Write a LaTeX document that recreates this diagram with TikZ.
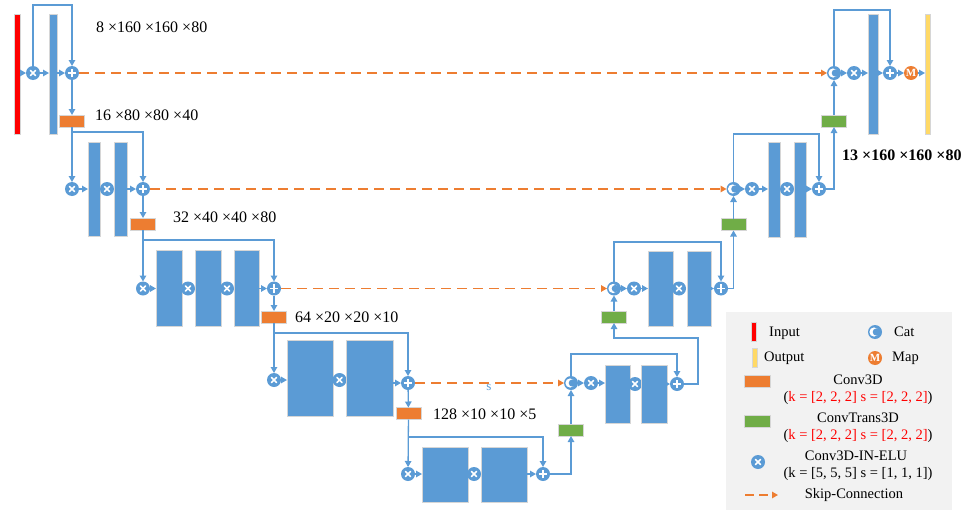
\documentclass[tikz,border=0pt]{standalone}
\usepackage{fontspec}
\setmainfont{Liberation Serif}
\usetikzlibrary{arrows.meta}
\definecolor{cblue}{HTML}{5B9BD5}
\definecolor{corange}{HTML}{ED7D31}
\definecolor{cgreen}{HTML}{70AD47}
\definecolor{cred}{HTML}{FF0000}
\definecolor{cyellow}{HTML}{FFD966}
\definecolor{legbg}{HTML}{F2F2F2}

\begin{document}
\begin{tikzpicture}[x=1pt,y=-1pt,
  sz/.style 2 args={minimum width=#1pt, minimum height=#2pt},
  blk/.style={rectangle, inner sep=0pt, outer sep=0pt, draw=black!16, line width=0.6pt},
  bar/.style={blk, fill=cblue},
  conv/.style={blk, fill=corange, sz={25}{12}},
  tconv/.style={blk, fill=cgreen, sz={25}{12}},
  opbase/.style={circle, minimum size=14pt, inner sep=0pt, outer sep=0pt},
  opx/.style={opbase, fill=cblue, path picture={
    \draw[white, line width=1.7pt, line cap=round]
      ([shift={(-2.6pt,-2.6pt)}]path picture bounding box.center) -- ([shift={(2.6pt,2.6pt)}]path picture bounding box.center)
      ([shift={(-2.6pt,2.6pt)}]path picture bounding box.center) -- ([shift={(2.6pt,-2.6pt)}]path picture bounding box.center);}},
  opp/.style={opbase, fill=cblue, path picture={
    \draw[white, line width=1.7pt]
      ([xshift=-4.4pt]path picture bounding box.center) -- ([xshift=4.4pt]path picture bounding box.center)
      ([yshift=-4.4pt]path picture bounding box.center) -- ([yshift=4.4pt]path picture bounding box.center);}},
  opc/.style={opbase, fill=cblue, path picture={
    \fill[white] ([xshift=-1pt]path picture bounding box.center) circle (4.6pt);
    \fill[cblue] ([xshift=1.3pt]path picture bounding box.center) circle (3.6pt);}},
  opm/.style={opbase, fill=corange, text=white, font=\fontsize{11}{11}\selectfont\bfseries},
  arr/.style={draw=cblue, line width=1.3pt, -{Triangle[length=6pt,width=6.5pt]}},
  skip/.style={draw=corange, line width=1.3pt, dash pattern=on 10pt off 6pt, -{Triangle[length=6pt,width=6.5pt]}},
  dim/.style={anchor=west, inner sep=0pt, font=\fontsize{16}{16}\selectfont},
  leg/.style={inner sep=0pt, font=\fontsize{14.5}{14.5}\selectfont},
]
\useasboundingbox (0,0) rectangle (964,514);

% ---------------- legend panel (background first) ----------------
\fill[legbg] (726,312) rectangle (952,510);

% ---------------- encoder, level 0 ----------------
\node[blk, fill=cred, sz={6}{120}] (in) at (17,74) {};
\node[opx] (x00) at (33,73) {};
\node[bar, sz={8}{120}] (b00) at (53,74) {};
\node[opp] (p0) at (72,73) {};
\node[conv] (o0) at (72,121) {};
\coordinate (t0) at (72,5);

% ---------------- encoder, level 1 ----------------
\node[opx] (x10) at (72,189) {};
\node[bar, sz={12}{94}] (b10) at (94,189) {};
\node[opx] (x11) at (107,189) {};
\node[bar, sz={13}{94}] (b11) at (120.5,189) {};
\node[opp] (p1) at (143,189) {};
\node[conv] (o1) at (143,224) {};
\coordinate (t1) at (143,132);

% ---------------- encoder, level 2 ----------------
\node[opx] (x20) at (143,288.5) {};
\node[bar, sz={26}{76}] (b20) at (169,288) {};
\node[opx] (x21) at (188,288.5) {};
\node[bar, sz={26}{76}] (b21) at (208,288) {};
\node[opx] (x22) at (227,288.5) {};
\node[bar, sz={25}{76}] (b22) at (246.5,288) {};
\node[opp] (p2) at (274,288.5) {};
\node[conv] (o2) at (274,317) {};
\coordinate (t2) at (274,240);

% ---------------- encoder, level 3 ----------------
\node[opx] (x30) at (274,380) {};
\node[bar, sz={46}{76}] (b30) at (310,378) {};
\node[opx] (x31) at (339.5,380) {};
\node[bar, sz={47}{76}] (b31) at (369.5,378) {};
\node[opp] (p3) at (408,383) {};
\node[conv] (o3) at (408.5,413.5) {};
\coordinate (t3) at (408,333);

% ---------------- bottleneck, level 4 ----------------
\node[opx] (x40) at (408,474) {};
\node[bar, sz={46}{55}] (b40) at (445,474.5) {};
\node[opx] (x41) at (474,474) {};
\node[bar, sz={46}{55}] (b41) at (504,474.5) {};
\node[opp] (p4) at (543,474) {};
\coordinate (t4) at (543,437);

% ---------------- decoder, level 3 ----------------
\node[tconv] (g3) at (571,430) {};
\node[opc] (c3) at (571,383) {};
\node[opx] (x3d) at (591,383) {};
\node[bar, sz={25}{58}] (d30) at (617.5,394) {};
\node[opx] (x3e) at (635,384) {};
\node[bar, sz={26}{58}] (d31) at (654,394) {};
\node[opp] (q3) at (677,384) {};
\coordinate (u3) at (677,354);
\coordinate (r3) at (698,338);

% ---------------- decoder, level 2 ----------------
\node[tconv] (g2) at (614,317) {};
\node[opc] (c2) at (614,288.5) {};
\node[opx] (x2d) at (634,288.5) {};
\node[bar, sz={25}{75}] (d20) at (660.5,288.5) {};
\node[opx] (x2e) at (679,288.5) {};
\node[bar, sz={24}{75}] (d21) at (699,288.5) {};
\node[opp] (q2) at (721,288.5) {};
\coordinate (u2) at (721,242);

% ---------------- decoder, level 1 ----------------
\node[tconv] (g1) at (733.5,224.5) {};
\node[opc] (c1) at (733.5,189) {};
\node[opx] (x1d) at (752,189) {};
\node[bar, sz={12}{95}] (d10) at (774,189.5) {};
\node[opx] (x1e) at (787,189) {};
\node[bar, sz={12}{95}] (d11) at (800,189.5) {};
\node[opp] (q1) at (819,189) {};
\coordinate (u1) at (819,134);

% ---------------- decoder, level 0 ----------------
\node[tconv] (g0) at (834,121) {};
\node[opc] (c0) at (834,73) {};
\node[opx] (x0d) at (854,73) {};
\node[bar, sz={10}{120}] (d00) at (873,74) {};
\node[opp] (q0) at (890,73) {};
\node[opm] (m0) at (911,73) {M};
\node[blk, fill=cyellow, sz={5}{120}] (out) at (927.5,74) {};
\coordinate (u0) at (890,10);

% ---------------- size labels ----------------
\node[dim] (l0) at (96,27) {8 ×160 ×160 ×80};
\node[dim] (l1) at (95,115) {16 ×80 ×80 ×40};
\node[dim] (l2) at (173,217) {32 ×40 ×40 ×80};
\node[dim] (l3) at (295,317) {64 ×20 ×20 ×10};
\node[dim] (l4) at (433,414) {128 ×10 ×10 ×5};
\node[dim, font=\fontsize{16}{16}\selectfont\bfseries] (l5) at (842,155) {13 ×160 ×160 ×80};

% ---------------- encoder connections ----------------
\draw[arr] (in.east |- x00) -- (x00);
\draw[arr] (x00) -- (b00.west |- x00);
\draw[arr] (b00.east |- p0) -- (p0);
\draw[arr] (x00) |- (t0) -- (p0);
\draw[arr] (p0) -- (o0);

\draw[arr] (o0) -- (x10);
\draw[arr] (o0.south |- t1) -- (t1) -- (p1);
\draw[arr] (x10) -- (b10.west |- x10);
\draw[arr] (b11.east |- p1) -- (p1);
\draw[arr] (p1) -- (o1);

\draw[arr] (o1) -- (x20);
\draw[arr] (o1.south |- t2) -- (t2) -- (p2);
\draw[arr] (x20) -- (b20.west |- x20);
\draw[arr] (b22.east |- p2) -- (p2);
\draw[arr] (p2) -- (o2);

\draw[arr] (o2) -- (x30);
\draw[arr] (o2.south |- t3) -- (t3) -- (p3);
\draw[arr] (x30) -- (b30.west |- x30);
\draw[arr] (b31.east |- p3) -- (p3);
\draw[arr] (p3) -- (o3);

\draw[arr] (o3) -- (x40);
\draw[arr] (o3.south |- t4) -- (t4) -- (p4);
\draw[arr] (x40) -- (b40.west |- x40);
\draw[arr] (b41.east |- p4) -- (p4);

% ---------------- decoder connections ----------------
\draw[arr] (p4) -| (g3);
\draw[arr] (g3) -- (c3);
\draw[arr] (c3) -- (x3d);
\draw[arr] (x3d) -- (d30.west |- x3d);
\draw[arr] (d31.east |- q3) -- (q3);
\draw[arr] (c3) |- (u3) -- (q3);
\draw[arr] (q3) -| (r3) -| (g2);

\draw[arr] (g2) -- (c2);
\draw[arr] (c2) -- (x2d);
\draw[arr] (x2d) -- (d20.west |- x2d);
\draw[arr] (d21.east |- q2) -- (q2);
\draw[arr] (c2) |- (u2) -- (q2);
\draw[arr] (q2) -| (g1);

\draw[arr] (g1) -- (c1);
\draw[arr] (c1) -- (x1d);
\draw[arr] (x1d) -- (d10.west |- x1d);
\draw[arr] (d11.east |- q1) -- (q1);
\draw[arr] (c1) |- (u1) -- (q1);
\draw[arr] (q1) -| (g0);

\draw[arr] (g0) -- (c0);
\draw[arr] (c0) -- (x0d);
\draw[arr] (x0d) -- (d00.west |- x0d);
\draw[arr] (d00.east |- q0) -- (q0);
\draw[arr] (c0) |- (u0) -- (q0);
\draw[arr] (q0) -- (m0);
\draw[arr] (m0) -- (out.west |- m0);

% ---------------- skip connections ----------------
\draw[skip] (p0) -- (c0);
\draw[skip] (p1) -- (c1);
\draw[skip] (p2) -- (c2);
\draw[skip] (p3) -- (c3);
\node[text=cblue, inner sep=0pt, font=\fontsize{13}{13}\selectfont] (sl) at (489,387) {s};

% ---------------- legend ----------------
\node[blk, fill=cred, sz={5}{19}] (kin) at (754,331.5) {};
\node[leg, anchor=west] (kint) at (769,333) {Input};
\node[blk, fill=cyellow, sz={5}{19}] (kout) at (755,357.5) {};
\node[leg, anchor=west] (koutt) at (764,358) {Output};
\node[opc] (kcat) at (875,332) {};
\node[leg, anchor=west] (kcatt) at (894,332) {Cat};
\node[opm] (kmap) at (875,358) {M};
\node[leg, anchor=west] (kmapt) at (892,358) {Map};
\node[conv, sz={26}{12}] (kconv) at (757,381) {};
\node[leg] (kconvt) at (858,380) {Conv3D};
\node[leg] (kconvp) at (858,398) {(\textcolor{cred}{k = [2, 2, 2] s = [2, 2, 2]})};
\node[tconv, sz={26}{12}] (ktc) at (757,421) {};
\node[leg] (ktct) at (858,418) {ConvTrans3D};
\node[leg] (ktcp) at (858,436) {(\textcolor{cred}{k = [2, 2, 2] s = [2, 2, 2]})};
\node[opx] (kx) at (758,462) {};
\node[leg] (kxt) at (856,456) {Conv3D-IN-ELU};
\node[leg] (kxp) at (858,474) {(k = [5, 5, 5] s = [1, 1, 1])};
\coordinate (ks0) at (745,495);
\coordinate (ks1) at (778,495);
\draw[skip, dash pattern=on 9pt off 5pt] (ks0) -- (ks1);
\node[leg] (kst) at (854,495) {Skip-Connection};
\end{tikzpicture}
\end{document}
